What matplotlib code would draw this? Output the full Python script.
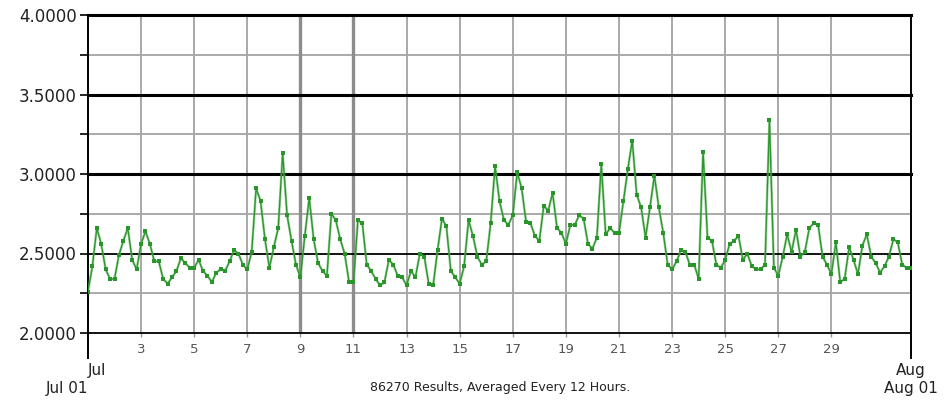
import numpy as np
import pandas as pd
import matplotlib
matplotlib.use("Agg")
import matplotlib.pyplot as plt
import matplotlib.dates as mdates

# 4-hourly averages, Jul 01 00:00 .. Aug 01 00:00
values = [
    2.26, 2.42, 2.66, 2.56, 2.40, 2.34,   # Jul 1
    2.34, 2.49, 2.58, 2.66, 2.46, 2.40,
    2.56, 2.64, 2.56, 2.45, 2.45, 2.34,
    2.31, 2.35, 2.39, 2.47, 2.44, 2.41,
    2.41, 2.46, 2.39, 2.36, 2.32, 2.38,   # Jul 5
    2.40, 2.39, 2.45, 2.52, 2.50, 2.43,
    2.40, 2.51, 2.91, 2.83, 2.59, 2.41,
    2.54, 2.66, 3.13, 2.74, 2.58, 2.43,
    2.35, 2.61, 2.85, 2.59, 2.44, 2.39,   # Jul 9
    2.36, 2.75, 2.71, 2.59, 2.50, 2.32,
    2.32, 2.71, 2.69, 2.43, 2.39, 2.34,
    2.30, 2.32, 2.46, 2.43, 2.36, 2.35,
    2.30, 2.39, 2.35, 2.50, 2.48, 2.31,   # Jul 13
    2.30, 2.52, 2.72, 2.67, 2.39, 2.35,
    2.31, 2.42, 2.71, 2.61, 2.48, 2.43,
    2.45, 2.69, 3.05, 2.83, 2.71, 2.68,
    2.74, 3.01, 2.91, 2.70, 2.69, 2.61,   # Jul 17
    2.58, 2.80, 2.77, 2.88, 2.66, 2.63,
    2.56, 2.68, 2.68, 2.74, 2.72, 2.56,
    2.53, 2.60, 3.06, 2.62, 2.66, 2.63,
    2.63, 2.83, 3.03, 3.21, 2.87, 2.79,   # Jul 21
    2.60, 2.79, 2.99, 2.79, 2.63, 2.43,
    2.40, 2.45, 2.52, 2.51, 2.43, 2.43,
    2.34, 3.14, 2.60, 2.58, 2.43, 2.41,
    2.46, 2.56, 2.58, 2.61, 2.46, 2.50,   # Jul 25
    2.42, 2.40, 2.40, 2.43, 3.34, 2.41,
    2.36, 2.48, 2.62, 2.51, 2.65, 2.48,
    2.51, 2.66, 2.69, 2.68, 2.48, 2.43,
    2.37, 2.57, 2.32, 2.34, 2.54, 2.46,   # Jul 29
    2.37, 2.55, 2.62, 2.48, 2.44, 2.38,
    2.42, 2.48, 2.59, 2.57, 2.43, 2.41,
    2.41,                                 # Aug 1
]
times = pd.date_range("2009-07-01", periods=len(values), freq="4h")

y_major = [2.0, 2.5, 3.0, 3.5, 4.0]
y_minor = [2.25, 2.75, 3.25, 3.75]
x_days = [3, 5, 7, 9, 11, 13, 15, 17, 19, 21, 23, 25, 27, 29]
dark_days = [9, 11]
subtitle = "86270 Results, Averaged Every 12 Hours."

t0 = pd.Timestamp("2009-07-01")
t1 = pd.Timestamp("2009-08-01")

fig = plt.figure(figsize=(9.53, 4.0), dpi=100)
ax = fig.add_axes([0.0923, 0.1675, 0.8637, 0.795])

ax.set_xlim(t0, t1)
ax.set_ylim(2.0, 4.0)

# horizontal grid: heavy black at 3.0+, lighter black below, grey quarters
for v in y_major:
    ax.axhline(v, color="black", lw=2.2 if v >= 3.0 else 1.3, zorder=2, clip_on=False)
for v in y_minor:
    ax.axhline(v, color="#aaaaaa", lw=1.4, zorder=1)
# vertical grid, Jul 9 / Jul 11 drawn darker
for d in x_days:
    dd = t0 + pd.Timedelta(days=d - 1)
    if d in dark_days:
        ax.axvline(dd, color="#8c8c8c", lw=2.4, zorder=1)
    else:
        ax.axvline(dd, color="#a8a8a8", lw=1.4, zorder=1)

ax.plot(times, values, color="#5fb35f", lw=1.8, alpha=0.6, zorder=3)
ax.plot(times, values, color="#2a952a", lw=0.9, marker="s", ms=2.3,
        markeredgewidth=0, zorder=4)

for s in ["top", "bottom"]:
    ax.spines[s].set_visible(False)
for s in ["left", "right"]:
    ax.spines[s].set_color("black")
    ax.spines[s].set_linewidth(1.4)
    ax.spines[s].set_bounds(2.0, 4.0)

ax.set_yticks(y_major + y_minor)
ax.set_yticklabels([f"{v:.4f}" if v in y_major else "" for v in y_major + y_minor])
ax.tick_params(axis="y", direction="out", length=6, width=1.2, pad=2,
               labelsize=12, colors="black", labelcolor="#222222")

ax.set_xticks([t0 + pd.Timedelta(days=d - 1) for d in x_days])
ax.set_xticklabels([str(d) for d in x_days])
ax.tick_params(axis="x", length=3, width=1.0, color="#999999", pad=4,
               labelsize=9.5, labelcolor="#555555")

# end spine extensions and month labels
trans = ax.get_xaxis_transform()
for t in (t0, t1):
    ax.plot([t, t], [0, -0.08], transform=trans, color="black", lw=1.4, clip_on=False)
ax.text(t0, -0.095, "Jul", transform=trans, ha="left", va="top", fontsize=11, color="#222222")
ax.text(t0, -0.15, "Jul 01", transform=trans, ha="right", va="top", fontsize=11, color="#222222")
ax.text(t1, -0.095, "Aug", transform=trans, ha="center", va="top", fontsize=11, color="#222222")
ax.text(t1, -0.15, "Aug 01", transform=trans, ha="center", va="top", fontsize=11, color="#222222")

fig.text(0.525, 0.03, subtitle, ha="center", va="center", fontsize=9, color="#222222")

fig.savefig("out.png", dpi=100)
